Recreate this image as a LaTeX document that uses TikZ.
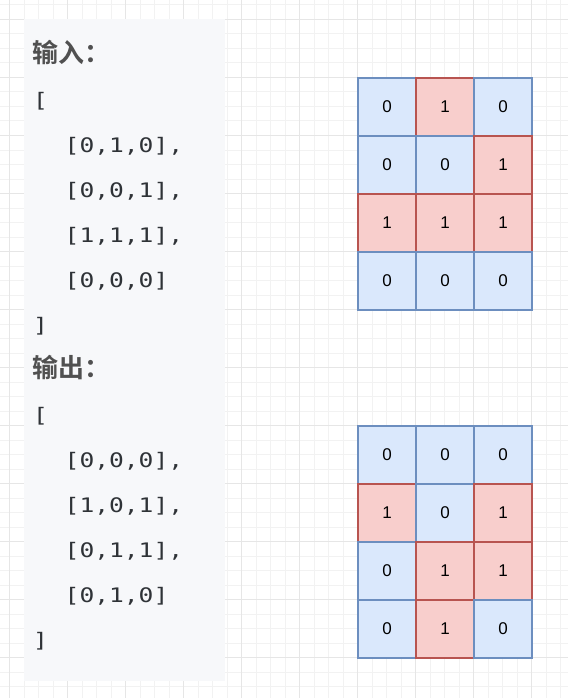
\documentclass[tikz,border=0pt]{standalone}
\usepackage{fontspec}
\setmainfont{Liberation Sans}
\newfontfamily\cjk{Noto Sans CJK SC}[BoldFont={Noto Sans CJK SC Bold}]
\newfontfamily\codefont{DejaVu Sans Mono}[FakeStretch=1.23]
\definecolor{bfill}{HTML}{DAE8FC}
\definecolor{bline}{HTML}{6C8EBF}
\definecolor{rfill}{HTML}{F8CECC}
\definecolor{rline}{HTML}{B85450}
\definecolor{panelc}{HTML}{F7F8FA}
\definecolor{gridmaj}{HTML}{E6E6E6}
\definecolor{gridmin}{HTML}{F2F2F2}
\definecolor{codec}{HTML}{2F3337}
\definecolor{headc}{HTML}{505050}
\tikzset{
  cellbase/.style={draw, line width=1.3pt, minimum size=58pt, inner sep=0pt,
    font=\fontsize{17}{17}\selectfont, text=black},
  cell0/.style={cellbase, fill=bfill, draw=bline},
  cell1/.style={cellbase, fill=rfill, draw=rline},
  codeline/.style={anchor=base west, inner sep=0pt, text=codec,
    font=\codefont\fontsize{20}{20}\selectfont},
  headline/.style={anchor=base west, inner sep=0pt, text=headc,
    font=\cjk\bfseries\fontsize{26}{26}\selectfont},
  minorline/.style={draw=gridmin, line width=1pt},
  majorline/.style={draw=gridmaj, line width=1pt}
}
\begin{document}
\begin{tikzpicture}[x=1pt,y=-1pt]
\useasboundingbox (0,0) rectangle (568,698);
\fill[white] (0,0) rectangle (568,698);
% background grid
\foreach \i in {0,...,40} {
  \draw[minorline] ({-4.8+14.5*\i},0) -- ({-4.8+14.5*\i},698);
}
\foreach \i in {0,...,49} {
  \draw[minorline] (0,{5+14.5*\i}) -- (568,{5+14.5*\i});
}
\foreach \i in {0,...,9} {
  \draw[majorline] ({9.7+58*\i},0) -- ({9.7+58*\i},698);
}
\foreach \i in {0,...,12} {
  \draw[majorline] (0,{19.5+58*\i}) -- (568,{19.5+58*\i});
}
% text panel
\node[fill=panelc, inner sep=0pt, minimum width=201pt, minimum height=662pt, anchor=north west] (panel) at (24,18.5) {};
% code text
\node[headline] (h1) at (32,63) {输入：};
\node[codeline] (o1) at (33,107.3) {[};
\node[codeline] (r1) at (64.5,152.3) {[0,1,0],};
\node[codeline] (r2) at (64.5,197.3) {[0,0,1],};
\node[codeline] (r3) at (64.5,242.3) {[1,1,1],};
\node[codeline] (r4) at (64.5,287.3) {[0,0,0]};
\node[codeline] (c1) at (33,332.3) {]};
\node[headline] (h2) at (32,377.5) {输出：};
\node[codeline] (o2) at (33,422.3) {[};
\node[codeline] (s1) at (64.5,467.3) {[0,0,0],};
\node[codeline] (s2) at (64.5,512.3) {[1,0,1],};
\node[codeline] (s3) at (64.5,557.3) {[0,1,1],};
\node[codeline] (s4) at (64.5,602.3) {[0,1,0]};
\node[codeline] (c2) at (33,647.3) {]};
% input matrix
\foreach \v [count=\i from 0] in {0,1,0,0,0,1,1,1,1,0,0,0} {
  \pgfmathtruncatemacro{\r}{\i/3}
  \pgfmathtruncatemacro{\c}{mod(\i,3)}
  \node[cell\v] (a\r\c) at ({387+58*\c},{107+58*\r}) {\v};
}
% output matrix
\foreach \v [count=\i from 0] in {0,0,0,1,0,1,0,1,1,0,1,0} {
  \pgfmathtruncatemacro{\r}{\i/3}
  \pgfmathtruncatemacro{\c}{mod(\i,3)}
  \node[cell\v] (b\r\c) at ({387+58*\c},{455+58*\r}) {\v};
}
\end{tikzpicture}
\end{document}
